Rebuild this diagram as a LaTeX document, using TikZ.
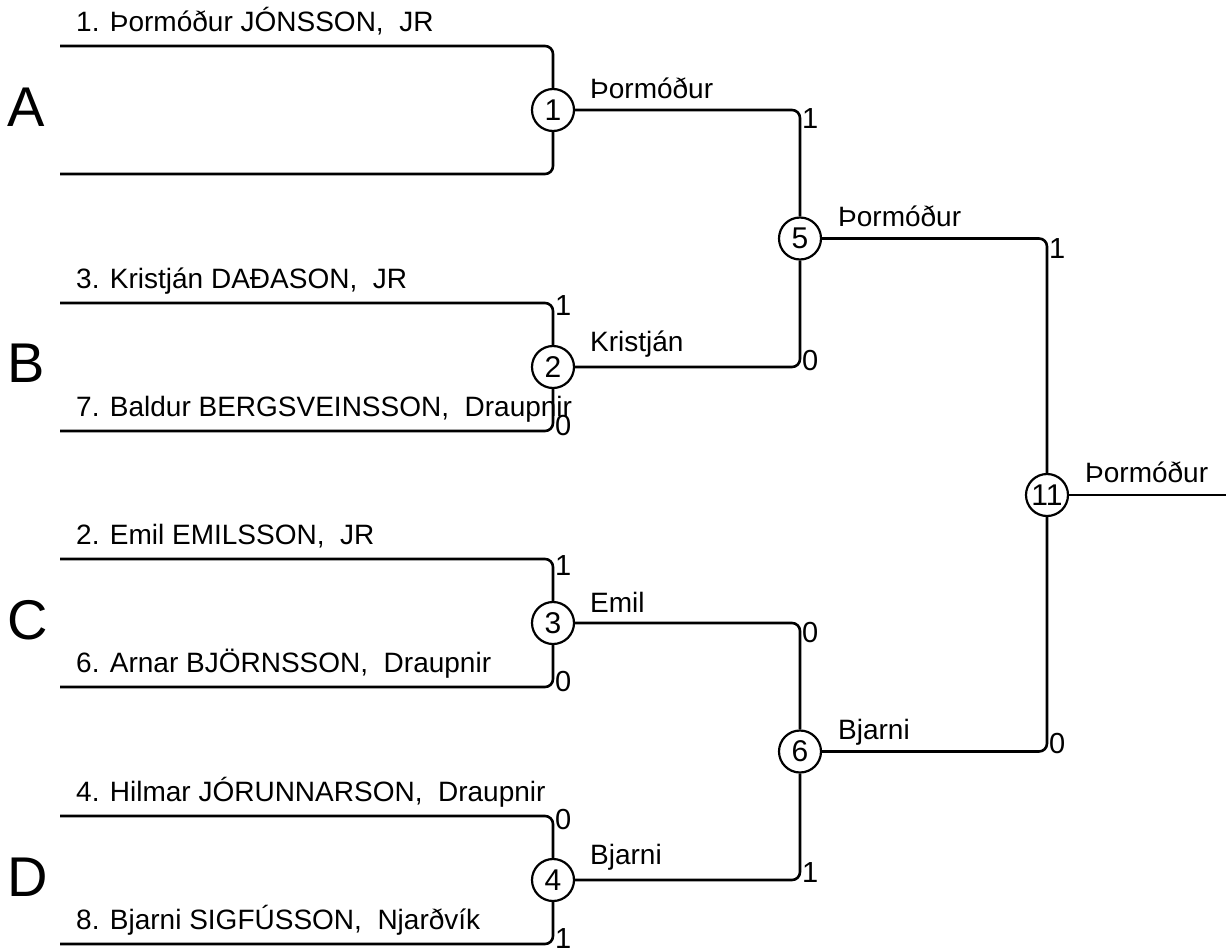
\documentclass[tikz,border=0pt]{standalone}
\usepackage{fontspec}
\setmainfont{Liberation Sans}
\begin{document}
\begin{tikzpicture}[x=1pt,y=-1pt,
  wire/.style={line width=2.6pt,rounded corners=8pt},
  match/.style={circle,draw,line width=2.2pt,minimum size=42pt,inner sep=0pt,font=\fontsize{30}{34}\selectfont},
  player/.style={anchor=base west,inner sep=0pt,font=\fontsize{28}{32}\selectfont},
  winner/.style={anchor=base west,inner sep=0pt,font=\fontsize{28}{32}\selectfont},
  score/.style={anchor=west,inner sep=0pt,font=\fontsize{29}{32}\selectfont},
  group/.style={anchor=base west,inner sep=0pt,font=\fontsize{56}{60}\selectfont}]
\useasboundingbox (0,0) rectangle (1226,948);
% left ends of first-round lines
\coordinate (a1) at (60,46);  \coordinate (a2) at (60,174);
\coordinate (b1) at (60,303); \coordinate (b2) at (60,431);
\coordinate (c1) at (60,559); \coordinate (c2) at (60,687);
\coordinate (d1) at (60,816); \coordinate (d2) at (60,944);
\coordinate (out) at (1226,495);
% matches
\node[match] (m1) at (553,110) {1};
\node[match] (m2) at (553,367) {2};
\node[match] (m3) at (553,623) {3};
\node[match] (m4) at (553,880) {4};
\node[match] (m5) at (800,238.5) {5};
\node[match] (m6) at (800,751.5) {6};
\node[match] (m11) at (1047,495) {11};
% connectors
\draw[wire] (a1) -- (m1 |- a1) -- (m1);
\draw[wire] (a2) -- (m1 |- a2) -- (m1);
\draw[wire] (b1) -- (m2 |- b1) -- (m2);
\draw[wire] (b2) -- (m2 |- b2) -- (m2);
\draw[wire] (c1) -- (m3 |- c1) -- (m3);
\draw[wire] (c2) -- (m3 |- c2) -- (m3);
\draw[wire] (d1) -- (m4 |- d1) -- (m4);
\draw[wire] (d2) -- (m4 |- d2) -- (m4);
\draw[wire] (m1) -- (m5 |- m1) -- (m5);
\draw[wire] (m2) -- (m5 |- m2) -- (m5);
\draw[wire] (m3) -- (m6 |- m3) -- (m6);
\draw[wire] (m4) -- (m6 |- m4) -- (m6);
\draw[wire] (m5) -- (m11 |- m5) -- (m11);
\draw[wire] (m6) -- (m11 |- m6) -- (m11);
\draw[wire] (m11) -- (out);
% group letters
\node[group] (gA) at (7,126) {A};
\node[group] (gB) at (7,382) {B};
\node[group] (gC) at (7,639) {C};
\node[group] (gD) at (7,896) {D};
% player names
\node[player] (p1) at (76,31) {1. Þormóður JÓNSSON,\ \ JR};
\node[player] (p3) at (76,288) {3. Kristján DAÐASON,\ \ JR};
\node[player] (p7) at (76,416) {7. Baldur BERGSVEINSSON,\ \ Draupnir};
\node[player] (p2) at (76,544) {2. Emil EMILSSON,\ \ JR};
\node[player] (p6) at (76,672) {6. Arnar BJÖRNSSON,\ \ Draupnir};
\node[player] (p4) at (76,801) {4. Hilmar JÓRUNNARSON,\ \ Draupnir};
\node[player] (p8) at (76,929) {8. Bjarni SIGFÚSSON,\ \ Njarðvík};
% winners
\node[winner] (w1) at (590,98) {Þormóður};
\node[winner] (w2) at (590,351) {Kristján};
\node[winner] (w3) at (590,612) {Emil};
\node[winner] (w4) at (590,864) {Bjarni};
\node[winner] (w5) at (838,226) {Þormóður};
\node[winner] (w6) at (838,739) {Bjarni};
\node[winner] (w11) at (1085,482) {Þormóður};
% scores
\node[score] (s2a) at (555,306) {1};
\node[score] (s2b) at (555,426) {0};
\node[score] (s3a) at (555,566) {1};
\node[score] (s3b) at (555,682) {0};
\node[score] (s4a) at (555,820) {0};
\node[score] (s4b) at (555,939) {1};
\node[score] (s5a) at (802,119) {1};
\node[score] (s5b) at (802,361) {0};
\node[score] (s6a) at (802,633) {0};
\node[score] (s6b) at (802,873) {1};
\node[score] (s11a) at (1049,249) {1};
\node[score] (s11b) at (1049,744) {0};
\end{tikzpicture}
\end{document}
